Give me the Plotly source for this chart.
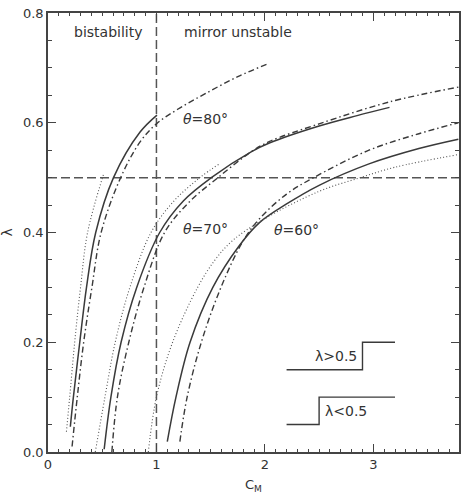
import plotly.graph_objects as go

# ---- data ----
# theta = 80 deg
s80_x = [0.206, 0.234, 0.293, 0.355, 0.44, 0.604, 0.849, 1.005]
s80_y = [0.046, 0.10, 0.20, 0.30, 0.40, 0.50, 0.583, 0.614]
d80_x = [0.222, 0.27, 0.329, 0.405, 0.49, 0.67, 0.849, 1.0, 1.2, 1.45, 1.75, 2.035]
d80_y = [0.01, 0.10, 0.20, 0.30, 0.40, 0.50, 0.565, 0.598, 0.625, 0.653, 0.684, 0.708]
o80_x = [0.17, 0.20, 0.246, 0.30, 0.365, 0.512]
o80_y = [0.037, 0.10, 0.20, 0.30, 0.40, 0.506]
# theta = 70 deg
s70_x = [0.518, 0.58, 0.674, 0.818, 1.03, 1.25, 1.506, 1.873, 2.041, 2.5, 2.85, 3.149]
s70_y = [0.005, 0.10, 0.20, 0.30, 0.40, 0.458, 0.50, 0.547, 0.563, 0.594, 0.613, 0.628]
d70_x = [0.589, 0.64, 0.745, 0.885, 1.075, 1.30, 1.567, 1.873, 2.044, 2.5, 3.149, 3.784]
d70_y = [0.0, 0.10, 0.20, 0.30, 0.40, 0.455, 0.50, 0.547, 0.566, 0.598, 0.638, 0.665]
o70_x = [0.436, 0.525, 0.62, 0.755, 0.95, 1.15, 1.40, 1.58]
o70_y = [0.0, 0.10, 0.20, 0.30, 0.40, 0.455, 0.50, 0.525]
# theta = 60 deg
s60_x = [1.10, 1.18, 1.31, 1.52, 1.76, 1.95, 2.2, 2.5, 2.96, 3.42, 3.784]
s60_y = [0.019, 0.10, 0.20, 0.30, 0.375, 0.418, 0.452, 0.486, 0.525, 0.553, 0.57]
d60_x = [1.216, 1.283, 1.414, 1.595, 1.80, 1.95, 2.2, 2.45, 2.96, 3.42, 3.784]
d60_y = [0.019, 0.10, 0.20, 0.30, 0.385, 0.425, 0.47, 0.50, 0.55, 0.58, 0.60]
o60_x = [0.925, 1.0, 1.149, 1.38, 1.54, 1.70, 1.98, 2.5, 2.88, 3.2, 3.784]
o60_y = [0.0, 0.10, 0.20, 0.30, 0.35, 0.385, 0.423, 0.475, 0.50, 0.519, 0.542]

# reference lines
vline_x = [1.0, 1.0]
vline_y = [0.0, 0.8]
hline_x = [0.0, 3.8]
hline_y = [0.5, 0.5]

# step symbols
step_hi_x = [2.2, 2.9, 2.9, 3.2]
step_hi_y = [0.15, 0.15, 0.20, 0.20]
step_lo_x = [2.2, 2.5, 2.5, 3.2]
step_lo_y = [0.05, 0.05, 0.10, 0.10]

x_ticks = [0, 1, 2, 3]
y_ticks = [0.0, 0.2, 0.4, 0.6, 0.8]

LC = "#3a3a3a"
FONT = "DejaVu Sans"

fig = go.Figure()

def add(x, y, dash, width=1.4, color=LC, shape="spline"):
    line = dict(color=color, width=width, dash=dash, shape=shape)
    if shape == "spline":
        line["smoothing"] = 1.0
    fig.add_trace(go.Scatter(x=x, y=y, mode="lines", line=line,
                             showlegend=False, hoverinfo="skip"))

DASHDOT = "6px,3px,1.5px,3px"
DOT = "1px,2.2px"

add(vline_x, vline_y, "9px,4px", 1.5, "#555555", "linear")
add(hline_x, hline_y, "9px,4px", 1.5, "#555555", "linear")

for sx, sy in [(s80_x, s80_y), (s70_x, s70_y), (s60_x, s60_y)]:
    add(sx, sy, "solid", 1.5)
for dx, dy in [(d80_x, d80_y), (d70_x, d70_y), (d60_x, d60_y)]:
    add(dx, dy, DASHDOT, 1.4)
for ox, oy in [(o80_x, o80_y), (o70_x, o70_y), (o60_x, o60_y)]:
    add(ox, oy, DOT, 1.1, "#555555")

add(step_hi_x, step_hi_y, "solid", 1.4, LC, "linear")
add(step_lo_x, step_lo_y, "solid", 1.4, LC, "linear")

tf = dict(family=FONT, size=13, color="#333333")
ann = [
    dict(x=0.55, y=0.766, text="bistability"),
    dict(x=1.75, y=0.766, text="mirror unstable"),
    dict(x=1.45, y=0.606, text="<i>θ</i>=80°"),
    dict(x=1.45, y=0.407, text="<i>θ</i>=70°"),
    dict(x=2.295, y=0.405, text="<i>θ</i>=60°"),
    dict(x=2.87, y=0.175, text="λ>0.5", xanchor="right"),
    dict(x=2.535, y=0.075, text="λ<0.5", xanchor="left"),
]
annotations = []
for a in ann:
    d = dict(xref="x", yref="y", showarrow=False, font=dict(family=FONT, size=14, color="#333333"),
             xanchor="center", yanchor="middle")
    d.update(a)
    annotations.append(d)
annotations.append(dict(xref="paper", yref="y", x=0, y=0.4, xshift=-42, text="λ", textangle=-90,
                        showarrow=False, font=dict(family=FONT, size=14, color="#333333"),
                        xanchor="center", yanchor="middle"))
annotations.append(dict(xref="x", yref="paper", x=1.895, y=0, yshift=-33, text="C<sub>M</sub>",
                        showarrow=False, font=dict(family=FONT, size=13, color="#333333"),
                        xanchor="center", yanchor="middle"))

axis_common = dict(showgrid=False, zeroline=False, showline=True, linecolor="#444444", linewidth=1.5,
                   mirror="ticks", ticks="inside", tickcolor="#444444", tickwidth=1.2,
                   tickfont=tf)

fig.update_layout(
    width=467, height=495,
    margin=dict(l=47.5, r=6, t=9, b=43, pad=0),
    paper_bgcolor="white", plot_bgcolor="white",
    xaxis=dict(range=[0, 3.79], tickvals=x_ticks, ticktext=[str(v) for v in x_ticks], ticklen=8,
               minor=dict(dtick=0.1, tick0=0, ticklen=3.5, ticks="inside", tickcolor="#444444", tickwidth=1.2),
               **axis_common),
    yaxis=dict(range=[0, 0.8], tickvals=y_ticks, ticktext=[f"{v:.1f}" for v in y_ticks], ticklen=8,
               minor=dict(dtick=0.05, tick0=0, ticklen=4, ticks="inside", tickcolor="#444444", tickwidth=1.2),
               **axis_common),
    annotations=annotations,
)

fig.write_html("out.html")
